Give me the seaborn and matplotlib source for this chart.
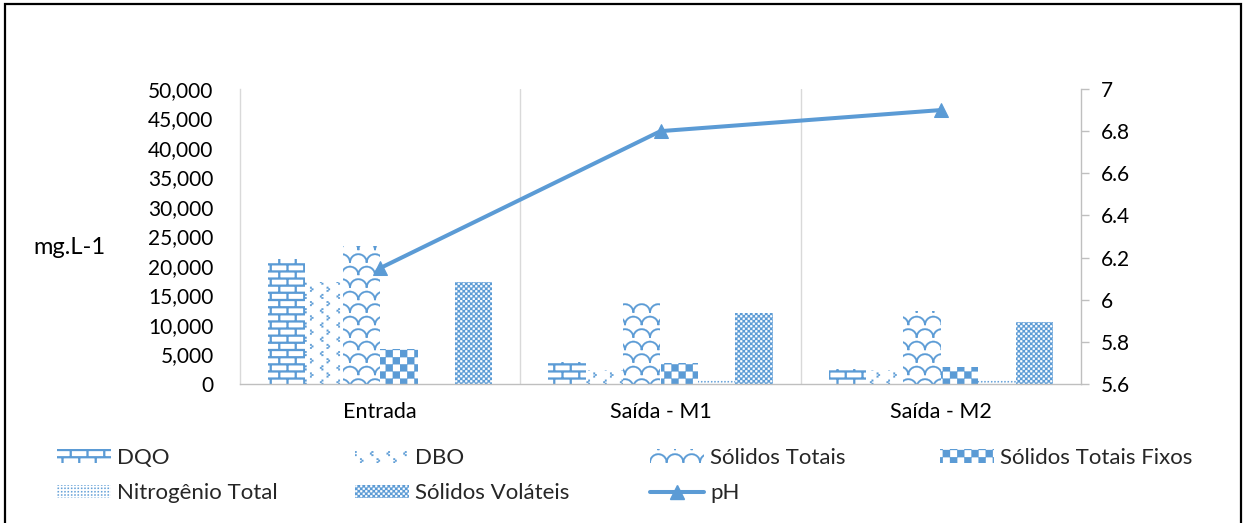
import warnings

import numpy as np
import pandas as pd
import matplotlib
matplotlib.use("Agg")
import matplotlib.pyplot as plt
import matplotlib.hatch as mhatch
import matplotlib.ticker as mticker
from matplotlib.path import Path
from matplotlib.patches import Patch, Rectangle
from matplotlib.lines import Line2D
import seaborn as sns

# ---------------------------------------------------------------- data
pontos = ["Entrada", "Saída - M1", "Saída - M2"]
parametros = ["DQO", "DBO", "Sólidos Totais", "Sólidos Totais Fixos",
              "Nitrogênio Total", "Sólidos Voláteis"]
dqo = [21200, 3700, 2500]
dbo = [17300, 2400, 2300]
solidos_totais = [23400, 13900, 12400]
solidos_totais_fixos = [5900, 3500, 2800]
nitrogenio_total = [0, 700, 600]
solidos_volateis = [17300, 12000, 10500]
ph = [6.15, 6.8, 6.9]

y_ticks_left = list(range(0, 50001, 5000))
y_ticks_right = [5.6, 5.8, 6.0, 6.2, 6.4, 6.6, 6.8, 7.0]

# ---------------------------------------------------------------- style
W, H, DPI = 1245, 523, 100
BLUE = "#5B9BD5"
FONT = "Lato"
FS = 15

sns.set_theme(style="white")
plt.rcParams["font.family"] = [FONT, "DejaVu Sans"]
plt.rcParams["hatch.linewidth"] = 0.2
plt.rcParams["hatch.color"] = BLUE
warnings.filterwarnings("ignore", message="hatch must consist")


# ---------------------------------------------------------------- fill patterns
# Every pattern is a list of closed, filled polygons in a unit tile.
def _rect(x0, y0, x1, y1):
    return np.array([[x0, y0], [x1, y0], [x1, y1], [x0, y1], [x0, y0]])


def _arc(cx, cy, r, t, n=18):
    a = np.linspace(0, np.pi, n)
    outer = np.c_[cx + (r + t / 2) * np.cos(a), cy + (r + t / 2) * np.sin(a)]
    inner = np.c_[cx + (r - t / 2) * np.cos(a[::-1]), cy + (r - t / 2) * np.sin(a[::-1])]
    return np.vstack([outer, inner, outer[:1]])


def brick():
    rows, cols, t = 14, 6, 0.02
    h = 1 / rows
    shapes = [_rect(0, k * h - t / 2, 1, k * h + t / 2) for k in range(rows + 1)]
    for k in range(rows):
        for j in range(cols):
            x = (j + 0.25 + 0.5 * (k % 2)) / cols
            shapes.append(_rect(x - t / 2, k * h, x + t / 2, (k + 1) * h))
    return shapes


def chevrons():
    cols, rows, d, q = 12, 7, 0.016, 0.008
    shapes = []
    for j in range(cols):
        s = 1 if j % 2 == 0 else -1
        for i in range(rows):
            x = (j + 0.5) / cols
            y = (i + 0.25 + 0.5 * (j % 2)) / rows
            for dx, dy in [(d, d), (0, 0), (d, -d)]:
                px, py = x + s * dx, y + dy
                shapes.append(_rect(px - q, py - q, px + q, py + q))
    return shapes


def waves():
    cols, rows, t = 6, 8, 0.016
    w = 1 / cols
    shapes = []
    for i in range(-1, rows + 1):
        for j in range(-1, cols + 1):
            shapes.append(_arc((j + 0.5 * (i % 2)) * w, i / rows, w / 2, t))
    return shapes


def checker(n):
    s = 1 / n
    return [_rect(i * s, j * s, (i + 1) * s, (j + 1) * s)
            for i in range(n) for j in range(n) if (i + j) % 2 == 0]


def dots():
    n, q = 30, 0.006
    return [_rect((i + 0.5) / n - q, (j + 0.5) / n - q, (i + 0.5) / n + q, (j + 0.5) / n + q)
            for i in range(n) for j in range(n)]


class _ShapeHatch(mhatch.HatchPatternBase):
    symbol = ""
    shapes = []

    def __init__(self, hatch, density):
        self.active = self.shapes if (hatch and self.symbol in hatch) else []
        self.num_vertices = sum(len(s) for s in self.active)

    def set_vertices_and_codes(self, vertices, codes):
        i = 0
        for s in self.active:
            n = len(s)
            vertices[i:i + n] = s
            codes[i] = Path.MOVETO
            codes[i + 1:i + n] = Path.LINETO
            i += n


for _sym, _shapes in [("B", brick()), ("C", chevrons()), ("W", waves()),
                      ("K", checker(14)), ("D", dots()), ("F", checker(40))]:
    mhatch._hatch_types.append(
        type(f"Hatch{_sym}", (_ShapeHatch,), {"symbol": _sym, "shapes": _shapes}))

hatches = ["B", "C", "W", "K", "D", "F"]

# ---------------------------------------------------------------- figure
fig = plt.figure(figsize=(W / DPI, H / DPI), dpi=DPI)
ax = fig.add_axes([240 / W, 1 - 384 / H, (1081 - 240) / W, (384 - 89) / H])

valores = [dqo, dbo, solidos_totais, solidos_totais_fixos, nitrogenio_total, solidos_volateis]
df = pd.DataFrame(
    [(p, nome, v) for nome, vals in zip(parametros, valores) for p, v in zip(pontos, vals)],
    columns=["Ponto", "Parâmetro", "Valor"])

sns.barplot(data=df, x="Ponto", y="Valor", hue="Parâmetro", order=pontos,
            hue_order=parametros, width=0.8, errorbar=None, legend=False,
            saturation=1, ax=ax)

for container, hatch in zip(ax.containers, hatches):
    for bar in container:
        bar.set_facecolor("white")
        bar.set_edgecolor(BLUE)
        bar.set_linewidth(0)
        bar.set_hatch(hatch)

ax.set_xlim(-0.5, 2.5)
ax.set_ylim(0, 50000)
ax.set_yticks(y_ticks_left)
ax.yaxis.set_major_formatter(mticker.FuncFormatter(lambda v, p: f"{v:,.0f}"))
for xb in (0.5, 1.5):
    ax.axvline(xb, color="#D9D9D9", lw=1.0, zorder=0)

ax.tick_params(axis="y", length=0, pad=19, labelsize=FS, labelcolor="black")
ax.tick_params(axis="x", length=0, pad=13, labelsize=FS + 0.5, labelcolor="black")
ax.set_xlabel("")
ax.set_ylabel("")
fig.text(33 / W, 1 - 247 / H, "mg.L-1", fontsize=FS + 2, color="black",
         ha="left", va="center")

for side in ("top", "right"):
    ax.spines[side].set_visible(False)
ax.spines["left"].set_color("#D9D9D9")
ax.spines["bottom"].set_color("#BFBFBF")
ax.spines["left"].set_linewidth(1.0)
ax.spines["bottom"].set_linewidth(1.0)

# pH on the secondary axis
ax2 = ax.twinx()
sns.lineplot(x=pontos, y=ph, ax=ax2, sort=False, color=BLUE, lw=2.9,
             marker="^", markersize=10, markeredgecolor=BLUE, markerfacecolor=BLUE)
ax2.set_ylim(5.6, 7.0)
ax2.set_yticks(y_ticks_right)
ax2.yaxis.set_major_formatter(mticker.FuncFormatter(lambda v, p: f"{round(v, 1):g}"))
ax2.tick_params(axis="y", length=6, width=1.0, color="#BFBFBF", pad=8,
                labelsize=FS, labelcolor="black")
ax2.set_ylabel("")
for side in ("top", "left", "bottom"):
    ax2.spines[side].set_visible(False)
ax2.spines["right"].set_color("#BFBFBF")
ax2.spines["right"].set_linewidth(1.0)
ax2.grid(False)
ax.grid(False)

# ---------------------------------------------------------------- legend
patch_handles = {nome: Patch(facecolor="white", edgecolor=BLUE, linewidth=0, hatch=h)
                 for nome, h in zip(parametros, hatches)}
ph_handle = Line2D([], [], color=BLUE, lw=2.9, marker="^", markersize=10)

columns = [
    ([patch_handles["DQO"], patch_handles["Nitrogênio Total"]], ["DQO", "Nitrogênio Total"]),
    ([patch_handles["DBO"], patch_handles["Sólidos Voláteis"]], ["DBO", "Sólidos Voláteis"]),
    ([patch_handles["Sólidos Totais"], ph_handle], ["Sólidos Totais", "pH"]),
    ([patch_handles["Sólidos Totais Fixos"]], ["Sólidos Totais Fixos"]),
]
x_starts = [57, 355, 650, 940]
for (hs, ls), x0 in zip(columns, x_starts):
    fig.legend(hs, ls, loc="upper left", bbox_to_anchor=(x0 / W, 1 - 448 / H),
               frameon=False, fontsize=FS + 1, handlelength=2.45, handleheight=0.55,
               handletextpad=0.25, labelspacing=0.68, borderpad=0, borderaxespad=0)

# outer frame
fig.add_artist(Rectangle((5 / W, -0.05), (1241 - 5) / W, 1.05 - 4 / H,
                         transform=fig.transFigure, fill=False,
                         edgecolor="black", lw=1.6))

fig.savefig("out.png", dpi=DPI, facecolor="white")
